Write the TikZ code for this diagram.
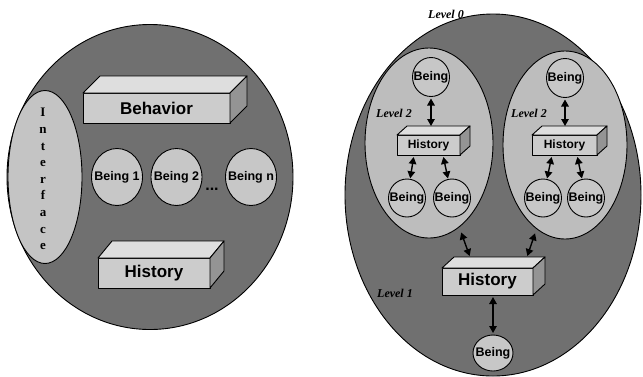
\documentclass[tikz,border=0pt]{standalone}
\usepackage{fontspec}
\setmainfont{Liberation Serif}
\newfontfamily\labelsans{Liberation Sans}
\usetikzlibrary{arrows.meta,shapes.geometric}

\definecolor{worldfill}{gray}{0.44}
\definecolor{podfill}{gray}{0.74}
\definecolor{facefill}{gray}{0.77}
\definecolor{beingfill}{gray}{0.78}
\definecolor{slabfront}{gray}{0.80}
\definecolor{slabtop}{gray}{0.87}
\definecolor{slabside}{gray}{0.58}

\tikzset{
  outline/.style={draw=black, line width=0.9pt, line join=round},
  world/.style={outline, fill=worldfill, ellipse, inner sep=0pt, outer sep=0pt},
  pod/.style={outline, fill=podfill, ellipse, inner sep=0pt, outer sep=0pt},
  beingfont/.style={font=\labelsans\bfseries\fontsize{12.5}{12.5}\selectfont, inner sep=0pt},
  % the ellipse keeps its own size; the name sits on it as a centred label
  being/.style={outline, fill=beingfill, ellipse, inner sep=0pt, outer sep=0pt,
    label={[beingfont]center:#1}},
  slab/.style={outline, fill=slabfront, rectangle, inner sep=0pt, outer sep=0pt},
  bigtext/.style={font=\labelsans\bfseries\fontsize{17}{17}\selectfont},
  smalltext/.style={font=\labelsans\bfseries\fontsize{12}{12}\selectfont},
  levellabel/.style={font=\bfseries\itshape\fontsize{12}{12}\selectfont, inner sep=0pt},
  link/.style={line width=1.4pt,
    {Triangle[length=7pt,width=7.5pt]}-{Triangle[length=7pt,width=7.5pt]}},
}

% top and right faces of a slab whose front face is node #1, depth (#2 right, #3 up)
\newcommand\slabfaces[3]{%
  \draw[outline, fill=slabtop] (#1.north west) -- ++(#2,-#3)
    -- ([shift={(#2,-#3)}]#1.north east) -- (#1.north east) -- cycle;
  \draw[outline, fill=slabside] (#1.north east) -- ++(#2,-#3)
    -- ([shift={(#2,-#3)}]#1.south east) -- (#1.south east) -- cycle;
}

\begin{document}
\begin{tikzpicture}[x=1pt, y=-1pt]
\useasboundingbox (0,0) rectangle (643,376);

% ---------- single-level being ----------
\node[world, minimum width=286pt, minimum height=305pt] (agent) at (150,177) {};
\node[outline, fill=facefill, ellipse, inner sep=0pt, minimum width=74pt, minimum height=173pt] (iface) at (45,177) {};
\node[font=\bfseries\fontsize{13}{16.6}\selectfont, align=center, inner sep=0pt] (ifacetext) at (43,179)
  {I\\n\\t\\e\\r\\f\\a\\c\\e};

\node[slab, minimum width=147pt, minimum height=30pt, bigtext] (behav) at (156.5,108) {Behavior};
\slabfaces{behav}{17}{17}

\node[being=Being 1, minimum width=51pt, minimum height=57pt] (b1) at (117,177) {};
\node[being=Being 2, minimum width=51pt, minimum height=57pt] (b2) at (176.5,177) {};
\node[being=Being n, minimum width=51pt, minimum height=57pt] (bn) at (251,177) {};
\node[font=\labelsans\bfseries\fontsize{16}{16}\selectfont, inner sep=0pt] (dots) at (212,189) {...};

\node[slab, minimum width=112pt, minimum height=30pt, bigtext] (hist) at (154,273) {History};
\slabfaces{hist}{14}{17}

% ---------- nested levels ----------
\node[world, minimum width=296pt, minimum height=362pt] (lvl0) at (493,195) {};
\node[levellabel] (lab0) at (446,14) {Level 0};
\node[levellabel] (lab1) at (395,293) {Level 1};

\node[pod, minimum width=128pt, minimum height=190pt] (podL) at (429,143) {};
\node[pod, minimum width=124pt, minimum height=188pt] (podR) at (565,145) {};
\node[levellabel] (labL) at (394,113) {Level 2};
\node[levellabel] (labR) at (529,113) {Level 2};

% left level-2 group
\node[being=Being, minimum width=37pt, minimum height=39pt] (bL0) at (431,77) {};
\node[slab, minimum width=63pt, minimum height=20pt, smalltext] (hL) at (428.5,145) {History};
\slabfaces{hL}{10}{9}
\coordinate (hLback) at ([shift={(10,-9)}]hL.north);
\node[being=Being, minimum width=37pt, minimum height=38pt] (bL1) at (407,198) {};
\node[being=Being, minimum width=37pt, minimum height=38pt] (bL2) at (452,198) {};

% right level-2 group
\node[being=Being, minimum width=37pt, minimum height=39pt] (bR0) at (565,78) {};
\node[slab, minimum width=65pt, minimum height=20pt, smalltext] (hR) at (564.5,145) {History};
\slabfaces{hR}{10}{9}
\coordinate (hRback) at ([shift={(10,-9)}]hR.north);
\node[being=Being, minimum width=37pt, minimum height=38pt] (bR1) at (543,198) {};
\node[being=Being, minimum width=37pt, minimum height=38pt] (bR2) at (586,198) {};

% level-1 history and its own being
\node[slab, minimum width=91pt, minimum height=27pt, bigtext] (hB) at (487.5,281.5) {History};
\slabfaces{hB}{12}{11}
\coordinate (hBl) at ([shift={(28,-11)}]hB.north west);
\coordinate (hBr) at ([shift={(-6,-11)}]hB.north east);
\node[being=Being, minimum width=40pt, minimum height=36pt] (bB) at (493,353) {};

% connectors
\draw[link, shorten <=2pt] (bL0.south) -- (bL0.south |- hLback);
\draw[link, shorten <=2pt] (bR0.south) -- (bR0.south |- hRback);
\draw[link, shorten <=2pt, shorten >=1pt] ([xshift=-14.5]hL.south) -- (bL1);
\draw[link, shorten <=2pt, shorten >=1pt] ([xshift=14.5]hL.south) -- (bL2);
\draw[link, shorten <=2pt, shorten >=1pt] ([xshift=-12.5]hR.south) -- (bR1);
\draw[link, shorten <=2pt, shorten >=1pt] ([xshift=12.5]hR.south) -- (bR2);
\draw[link, shorten <=6pt, shorten >=1pt] (podL) -- (hBl);
\draw[link, shorten <=5pt, shorten >=1pt] (podR) -- (hBr);
\draw[link, shorten <=2pt, shorten >=2pt] (hB.south -| bB.north) -- (bB.north);
\end{tikzpicture}
\end{document}
